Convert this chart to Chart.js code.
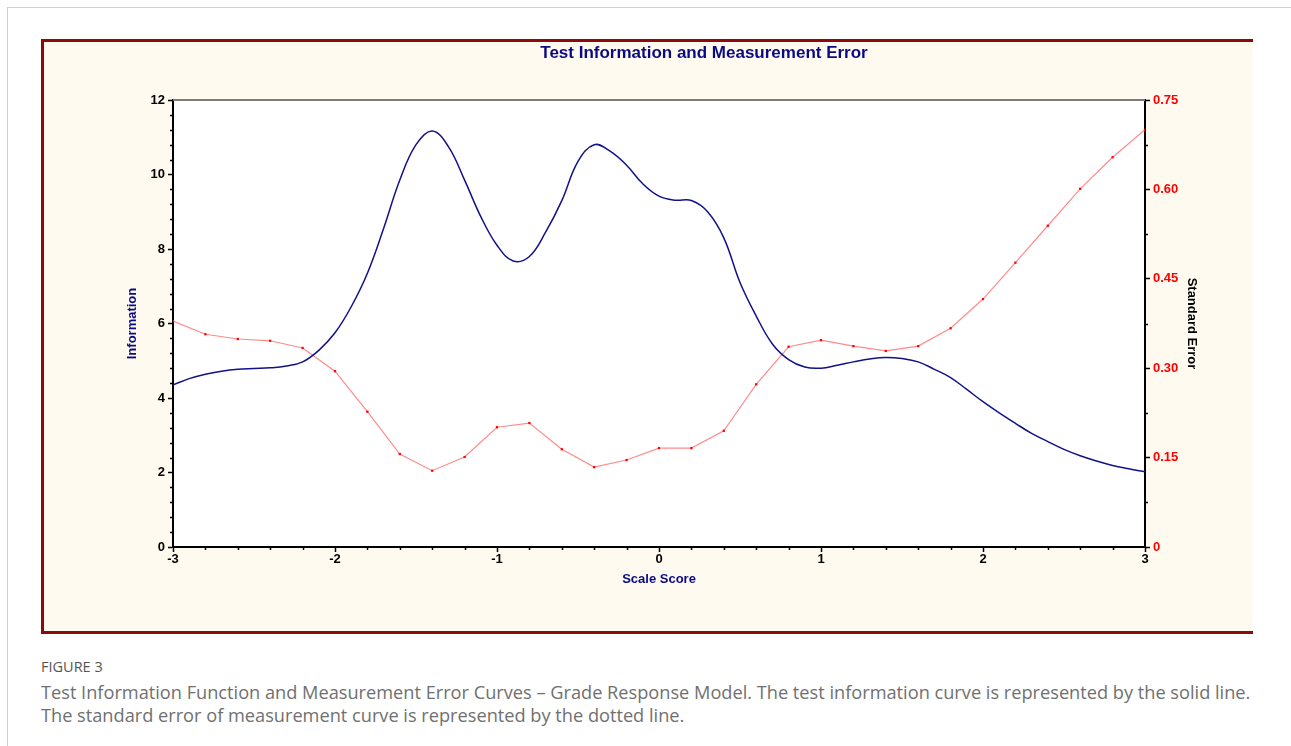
<!DOCTYPE html>
<html>
<head>
<meta charset="utf-8">
<script src="https://cdn.jsdelivr.net/npm/chart.js@4.4.1/dist/chart.umd.min.js"></script>
<style>
  html, body { margin: 0; padding: 0; background: #fff; width: 1291px; height: 746px; overflow: hidden; }
  #card { position: absolute; left: 7px; top: 7px; width: 1400px; height: 900px; border: 1px solid #d0d0d0; box-sizing: border-box; }
  #frame { position: absolute; left: 41px; top: 39px; width: 1212px; height: 595px; background: #fffaef;
           border-left: 3px solid #8b0a0a; border-top: 3px solid #8b0a0a; border-bottom: 3px solid #8b0a0a; box-sizing: border-box; }
  #chartWrap { position: absolute; left: 0; top: 0; width: 1209px; height: 589px; }
  #title { position: absolute; left: 454px; top: 43px; width: 500px; text-align: center;
           font: bold 17px "Liberation Sans", Arial, sans-serif; color: #0a0a85; line-height: 20px; white-space: nowrap; }
  #figLabel { position: absolute; left: 41px; top: 657px; font: 14.5px "Open Sans", "Noto Sans", sans-serif; color: #555; line-height: 20px; }
  #caption { position: absolute; left: 41px; top: 681px; font: 18.2px "Open Sans", "Noto Sans", sans-serif; color: #707070; line-height: 23px; white-space: nowrap; }
</style>
</head>
<body>
<div id="card"></div>
<div id="frame"><div id="chartWrap"><canvas id="c" width="1209" height="589"></canvas></div></div>
<div id="title">Test Information and Measurement Error</div>
<div id="figLabel">FIGURE 3</div>
<div id="caption">Test Information Function and Measurement Error Curves – Grade Response Model. The test information curve is represented by the solid line.<br>The standard error of measurement curve is represented by the dotted line.</div>
<script>
// Test information curve (solid), sampled on the scale score axis
const infoScore = [-3.0,-2.9,-2.8,-2.7,-2.6,-2.5,-2.4,-2.3,-2.2,-2.1,-2.0,-1.9,-1.8,-1.7,-1.6,-1.5,-1.4,-1.3,-1.2,-1.1,-1.0,
                   -0.9,-0.8,-0.7,-0.6,-0.5,-0.4,-0.3,-0.2,-0.1,0.0,0.1,0.2,0.3,0.4,0.5,0.6,0.7,0.8,0.9,1.0,
                   1.1,1.2,1.3,1.4,1.5,1.6,1.7,1.8,1.9,2.0,2.1,2.2,2.3,2.4,2.5,2.6,2.7,2.8,2.9,3.0];
const infoValues = [4.35,4.52,4.64,4.72,4.77,4.79,4.81,4.86,4.97,5.28,5.75,6.45,7.35,8.55,9.85,10.8,11.17,10.75,9.85,8.87,8.1,
                    7.68,7.8,8.45,9.3,10.35,10.8,10.62,10.25,9.75,9.42,9.31,9.3,9.0,8.3,7.1,6.2,5.45,5.03,4.83,4.8,
                    4.88,4.97,5.05,5.09,5.06,4.97,4.77,4.55,4.23,3.9,3.6,3.32,3.05,2.83,2.62,2.45,2.31,2.19,2.1,2.02];

// Standard error of measurement (dotted/marked line)
const seScore = [-3.0,-2.8,-2.6,-2.4,-2.2,-2.0,-1.8,-1.6,-1.4,-1.2,-1.0,-0.8,-0.6,-0.4,-0.2,0.0,
                 0.2,0.4,0.6,0.8,1.0,1.2,1.4,1.6,1.8,2.0,2.2,2.4,2.6,2.8,3.0];
const seValues = [0.379,0.357,0.349,0.346,0.334,0.295,0.227,0.156,0.128,0.151,0.201,0.208,0.164,0.134,0.146,0.166,
                  0.166,0.195,0.273,0.336,0.347,0.337,0.329,0.337,0.367,0.416,0.477,0.539,0.601,0.654,0.700];

// Tick labels
const scoreTicks = [-3,-2,-1,0,1,2,3];
const infoTicks = [0,2,4,6,8,10,12];
const seTicks = [0,0.15,0.30,0.45,0.60,0.75];

const NAVY = '#0a0a85';
const FONT = '"Liberation Sans", Arial, sans-serif';
const tickFont = { family: FONT, size: 13, weight: 'bold' };
const titleFont = { family: FONT, size: 13, weight: 'bold' };

// White plot area and grey top edge
const plotArea = {
  id: 'plotArea',
  beforeDraw(chart) {
    const { ctx, chartArea: a } = chart;
    ctx.save();
    ctx.fillStyle = '#ffffff';
    ctx.fillRect(a.left, a.top, a.right - a.left, a.bottom - a.top);
    ctx.restore();
  },
  afterDraw(chart) {
    const { ctx, chartArea: a } = chart;
    ctx.save();
    ctx.strokeStyle = '#7c7c7c';
    ctx.lineWidth = 2;
    ctx.beginPath();
    ctx.moveTo(a.left, a.top);
    ctx.lineTo(a.right, a.top);
    ctx.stroke();
    ctx.restore();
  }
};

// Short minor tick marks between the labelled ones
const minorTicks = {
  id: 'minorTicks',
  afterDraw(chart) {
    const { ctx, chartArea: a, scales } = chart;
    ctx.save();
    ctx.strokeStyle = '#000';
    ctx.lineWidth = 1.5;
    ctx.beginPath();
    for (let i = 0; i <= 30; i++) {           // left axis, every 0.4
      const v = i * 0.4;
      if (Math.abs(v / 2 - Math.round(v / 2)) < 1e-6) continue;
      const y = Math.round(scales.y.getPixelForValue(v)) + 0.5;
      ctx.moveTo(a.left - 3, y); ctx.lineTo(a.left + 1, y);
    }
    for (let i = 0; i < 5; i++) {             // right axis, midpoints
      const y = Math.round(scales.y1.getPixelForValue(0.075 + i * 0.15)) + 0.5;
      ctx.moveTo(a.right - 1, y); ctx.lineTo(a.right + 3, y);
    }
    for (let i = 0; i <= 30; i++) {           // bottom axis, every 0.2
      if (i % 5 === 0) continue;
      const x = Math.round(scales.x.getPixelForValue(-3 + i * 0.2)) + 0.5;
      ctx.moveTo(x, a.bottom - 1); ctx.lineTo(x, a.bottom + 3);
    }
    ctx.stroke();
    ctx.restore();
  }
};

new Chart(document.getElementById('c'), {
  type: 'line',
  data: {
    datasets: [
      {
        label: 'Information',
        data: infoScore.map((x, i) => ({ x, y: infoValues[i] })),
        yAxisID: 'y',
        borderColor: '#11118a',
        borderWidth: 1.5,
        pointRadius: 0,
        tension: 0.4,
        fill: false
      },
      {
        label: 'Standard Error',
        data: seScore.map((x, i) => ({ x, y: seValues[i] })),
        yAxisID: 'y1',
        borderColor: 'rgba(255,110,110,0.8)',
        borderWidth: 1.2,
        tension: 0,
        pointStyle: 'rect',
        pointRadius: 1.6,
        pointBackgroundColor: '#ff0000',
        pointBorderColor: '#ff0000',
        pointBorderWidth: 0,
        fill: false
      }
    ]
  },
  options: {
    responsive: false,
    animation: false,
    events: [],
    layout: { padding: { top: 58, left: 0, right: 0, bottom: 0 } },
    plugins: { legend: { display: false }, tooltip: { enabled: false }, title: { display: false } },
    scales: {
      x: {
        type: 'linear', min: -3, max: 3,
        afterBuildTicks: s => { s.ticks = scoreTicks.map(v => ({ value: v })); },
        afterFit: s => { s.height = 84; },
        ticks: { font: tickFont, color: '#000', padding: 0, maxRotation: 0, autoSkip: false, callback: v => String(v) },
        grid: { drawOnChartArea: false, tickLength: 5, tickColor: '#000', tickWidth: 1.5 },
        border: { color: '#000', width: 2 },
        title: { display: true, text: 'Scale Score', color: NAVY, font: titleFont, padding: { top: 0, bottom: 44.2 } }
      },
      y: {
        type: 'linear', position: 'left', min: 0, max: 12,
        afterBuildTicks: s => { s.ticks = infoTicks.map(v => ({ value: v })); },
        afterFit: s => { s.width = 129; },
        ticks: { font: tickFont, color: '#000', padding: 3, autoSkip: false, callback: v => String(v) },
        grid: { drawOnChartArea: false, tickLength: 5, tickColor: '#000', tickWidth: 1.5 },
        border: { color: '#000', width: 2 },
        title: { display: true, text: 'Information', color: NAVY, font: titleFont, padding: { top: 80.2, bottom: 0 } }
      },
      y1: {
        type: 'linear', position: 'right', min: 0, max: 0.75,
        afterBuildTicks: s => { s.ticks = seTicks.map(v => ({ value: v })); },
        afterFit: s => { s.width = 108; },
        ticks: { font: tickFont, color: '#ff0000', padding: 3, autoSkip: false, callback: v => (v === 0 ? '0' : v.toFixed(2)) },
        grid: { drawOnChartArea: false, tickLength: 5, tickColor: '#000', tickWidth: 1.5 },
        border: { color: '#000', width: 2 },
        title: { display: true, text: 'Standard Error', color: '#000', font: titleFont, padding: { top: 53.2, bottom: 0 } }
      }
    }
  },
  plugins: [plotArea, minorTicks]
});
</script>
</body>
</html>
